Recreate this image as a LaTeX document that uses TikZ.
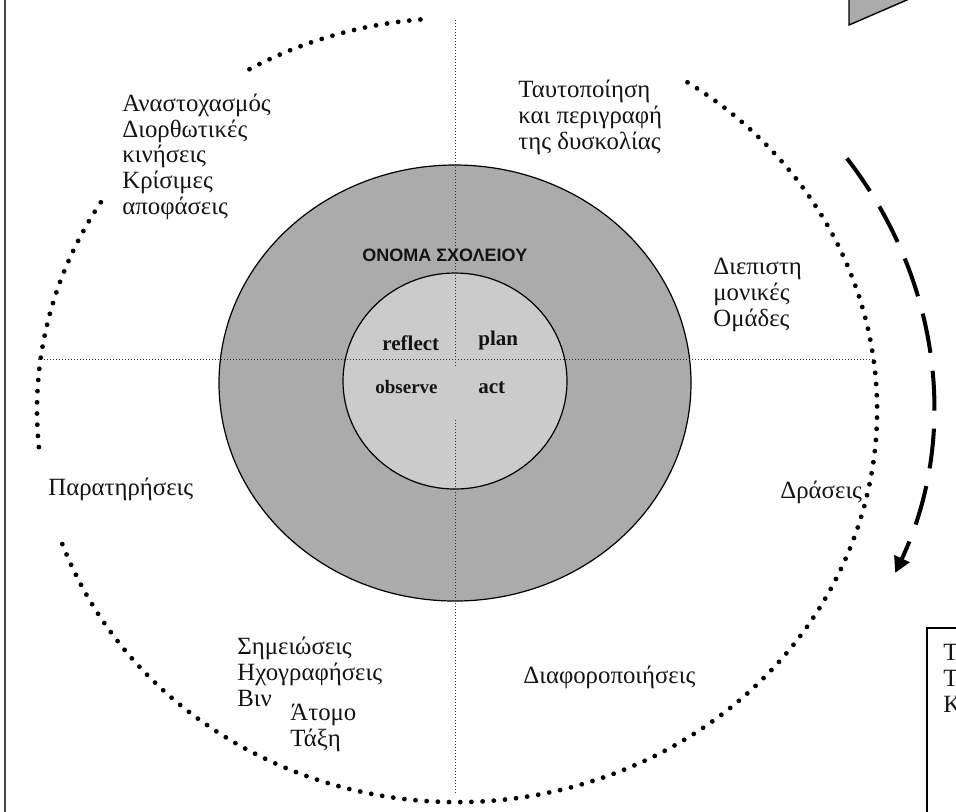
\documentclass[tikz,border=0pt]{standalone}
\usepackage{fontspec}
\setmainfont{Liberation Serif}
\newfontfamily\headfont{Liberation Sans}
\usepackage{xcolor}
\definecolor{scRing}{RGB}{171,171,171}
\definecolor{scCore}{RGB}{203,203,203}
\definecolor{scInk} {RGB}{ 20, 20, 20}
\definecolor{scEdge}{RGB}{ 70, 70, 70}
\usepackage{tikz}
\usetikzlibrary{arrows.meta}

\begin{document}
\begin{tikzpicture}[
  x=0.5pt, y=-0.5pt,
  >={Triangle[length=8pt, width=8pt]},
  ring/.style  ={draw=black, line width=0.6pt},
  hair/.style  ={densely dotted, line width=0.5pt, color=black!80},
  dotarc/.style={line width=2.4pt, line cap=round, dash pattern=on 0pt off 5.6pt},
  cyc/.style   ={->, line width=2pt, dash pattern=on 20pt off 9pt},
  lbl/.style   ={anchor=base west, align=left, inner sep=0pt, text=scInk,
                 font=\fontsize{12.4}{12.8}\selectfont},
  pdca/.style  ={anchor=base west, inner sep=0pt, text=scInk,
                 font=\fontsize{10.5}{12}\selectfont\bfseries},
]
  % page, in pixels of the reference (y runs down)
  \clip (0,0) rectangle (956,811);

  % frame edge on the left, box and callout cut by the page
  \draw[line width=1.2pt, color=scEdge] (5,-10) -- (5,820);
  \draw[line width=0.8pt] (927,830) -- (927,628) -- (970,628);
  \filldraw[fill=scRing, line width=0.7pt] (849,-10) -- (849,25) -- (930,-10);

  % school rings
  \filldraw[ring, fill=scRing] (455,383) ellipse [x radius=236, y radius=218];
  \filldraw[ring, fill=scCore] (455,381) ellipse [x radius=112, y radius=108];

  % cross hairs
  \draw[hair] (38,359) -- (873,359);
  \draw[hair] (455,20) -- (455,367);
  \draw[hair] (455,420) -- (455,795);

  % dotted outer ring, three pieces
  \draw[dotarc] (457,410) ++(-95:420 and 392)
    arc[start angle=-95, end angle=-120, x radius=420, y radius=392];
  \draw[dotarc] (457,410) ++(-148:420 and 392)
    arc[start angle=-148, end angle=-187, x radius=420, y radius=392];
  \draw[dotarc] (457,410) ++(160:420 and 392)
    arc[start angle=160, end angle=-57, x radius=420, y radius=392];

  % direction of the cycle
  \draw[cyc] (457,405) ++(-35:476 and 430)
    arc[start angle=-35, end angle=23, x radius=476, y radius=430];

  % centre
  \node[inner sep=0pt, anchor=base west, text=scInk,
        font=\headfont\fontsize{9}{10}\selectfont\bfseries] (school) at (362,261)
    {ΟΝΟΜΑ ΣΧΟΛΕΙΟΥ};
  \node[pdca] (refl) at (382,350) {reflect};
  \node[pdca] (plan) at (478,345) {plan};
  \node[pdca, font=\fontsize{9.5}{11}\selectfont\bfseries] (obs) at (375,393) {observe};
  \node[pdca] (act)  at (478,393) {act};

  % stage texts round the ring (base = last line)
  \node[lbl] (reflTxt) at (122,214)
    {Αναστοχασμός\\Διορθωτικές\\κινήσεις\\Κρίσιμες\\αποφάσεις};
  \node[lbl] (planTxt) at (518,149)
    {Ταυτοποίηση\\και περιγραφή\\της δυσκολίας};
  \node[lbl] (teamTxt) at (713,326) {Διεπιστη\\μονικές\\Ομάδες};
  \node[lbl] (obsTxt)  at (48,495)  {Παρατηρήσεις};
  \node[lbl] (actTxt)  at (780,498) {Δράσεις};
  \node[lbl] (noteTxt) at (237,706) {Σημειώσεις\\Ηχογραφήσεις\\Βιν};
  \node[lbl] (unitTxt) at (290,746) {Άτομο\\Τάξη};
  \node[lbl] (diffTxt) at (523,683) {Διαφοροποιήσεις};

  % box text, cut by the page
  \node[lbl] (boxTxt) at (943,712) {Τ\\Τ\\Κ};
\end{tikzpicture}
\end{document}
